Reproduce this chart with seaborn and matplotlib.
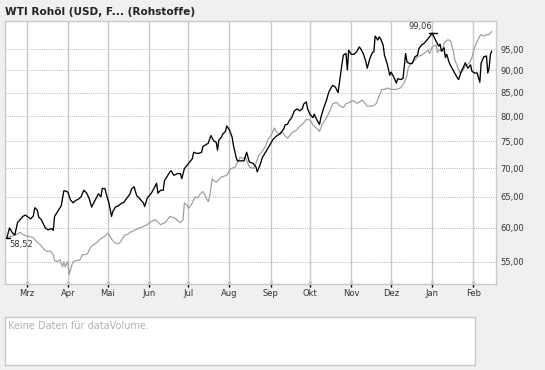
import matplotlib
matplotlib.use("Agg")
import matplotlib.pyplot as plt
import matplotlib.dates as mdates
import matplotlib.ticker as mticker
import seaborn as sns
import pandas as pd
from datetime import datetime

title = "WTI Rohöl (USD, F... (Rohstoffe)"
volume_note = "Keine Daten für dataVolume."

month_ticks = ["2007-03-01", "2007-04-01", "2007-05-01", "2007-06-01", "2007-07-01", "2007-08-01",
               "2007-09-01", "2007-10-01", "2007-11-01", "2007-12-01", "2008-01-01", "2008-02-01"]
month_labels = ["Mrz", "Apr", "Mai", "Jun", "Jul", "Aug", "Sep", "Okt", "Nov", "Dez", "Jan", "Feb"]
y_ticks = [55, 60, 65, 70, 75, 80, 85, 90, 95]
y_labels = ["55,00", "60,00", "65,00", "70,00", "75,00", "80,00", "85,00", "90,00", "95,00"]

wti_dates = [
    "2007-02-14", "2007-02-16", "2007-02-18", "2007-02-20", "2007-02-22", "2007-02-24", "2007-02-26", "2007-02-28",
    "2007-03-02", "2007-03-04", "2007-03-06", "2007-03-07", "2007-03-09", "2007-03-10", "2007-03-12", "2007-03-14",
    "2007-03-15", "2007-03-17", "2007-03-20", "2007-03-21", "2007-03-22", "2007-03-25", "2007-03-27", "2007-03-29",
    "2007-03-30", "2007-04-01", "2007-04-03", "2007-04-05", "2007-04-07", "2007-04-09", "2007-04-11", "2007-04-13",
    "2007-04-15", "2007-04-17", "2007-04-19", "2007-04-21", "2007-04-23", "2007-04-24", "2007-04-26", "2007-04-27",
    "2007-04-29", "2007-04-30", "2007-05-02", "2007-05-04", "2007-05-05", "2007-05-07", "2007-05-09", "2007-05-12",
    "2007-05-13", "2007-05-15", "2007-05-18", "2007-05-19", "2007-05-21", "2007-05-23", "2007-05-24", "2007-05-26",
    "2007-05-28", "2007-05-29", "2007-05-31", "2007-06-03", "2007-06-05", "2007-06-07", "2007-06-08", "2007-06-10",
    "2007-06-12", "2007-06-13", "2007-06-15", "2007-06-17", "2007-06-18", "2007-06-20", "2007-06-23", "2007-06-25",
    "2007-06-26", "2007-06-28", "2007-06-30", "2007-07-02", "2007-07-04", "2007-07-05", "2007-07-07", "2007-07-09",
    "2007-07-11", "2007-07-12", "2007-07-14", "2007-07-16", "2007-07-18", "2007-07-20", "2007-07-22", "2007-07-23",
    "2007-07-24", "2007-07-26", "2007-07-27", "2007-07-29", "2007-07-30", "2007-08-01", "2007-08-03", "2007-08-04",
    "2007-08-06", "2007-08-07", "2007-08-10", "2007-08-12", "2007-08-14", "2007-08-16", "2007-08-19", "2007-08-21",
    "2007-08-22", "2007-08-24", "2007-08-26", "2007-08-29", "2007-09-01", "2007-09-03", "2007-09-06", "2007-09-08",
    "2007-09-11", "2007-09-12", "2007-09-14", "2007-09-15", "2007-09-17", "2007-09-19", "2007-09-21", "2007-09-23",
    "2007-09-25", "2007-09-26", "2007-09-28", "2007-09-29", "2007-10-01", "2007-10-03", "2007-10-04", "2007-10-06",
    "2007-10-08", "2007-10-09", "2007-10-11", "2007-10-13", "2007-10-15", "2007-10-17", "2007-10-18", "2007-10-20",
    "2007-10-22", "2007-10-23", "2007-10-25", "2007-10-26", "2007-10-28", "2007-10-29", "2007-10-30", "2007-11-01",
    "2007-11-03", "2007-11-05", "2007-11-07", "2007-11-08", "2007-11-10", "2007-11-12", "2007-11-13", "2007-11-15",
    "2007-11-17", "2007-11-18", "2007-11-19", "2007-11-21", "2007-11-22", "2007-11-23", "2007-11-25", "2007-11-26",
    "2007-11-28", "2007-11-30", "2007-12-01", "2007-12-03", "2007-12-05", "2007-12-06", "2007-12-08", "2007-12-10",
    "2007-12-12", "2007-12-13", "2007-12-15", "2007-12-17", "2007-12-19", "2007-12-21", "2007-12-22", "2007-12-24",
    "2007-12-26", "2007-12-28", "2007-12-30", "2008-01-01", "2008-01-04", "2008-01-06", "2008-01-07", "2008-01-08",
    "2008-01-10", "2008-01-11", "2008-01-12", "2008-01-14", "2008-01-16", "2008-01-18", "2008-01-20", "2008-01-21",
    "2008-01-23", "2008-01-25", "2008-01-26", "2008-01-28", "2008-01-30", "2008-01-31", "2008-02-02", "2008-02-04",
    "2008-02-06", "2008-02-07", "2008-02-09", "2008-02-11", "2008-02-12", "2008-02-13", "2008-02-14", "2008-02-15",
]
wti_values = [
    58.52, 60.0, 59.3, 58.9, 60.8, 61.3, 61.8, 62.0,
    61.7, 61.4, 61.9, 63.2, 62.8, 61.7, 61.3, 60.4,
    60.0, 59.7, 59.9, 59.6, 61.8, 62.8, 63.5, 66.0,
    66.0, 65.8, 64.5, 64.0, 64.4, 64.6, 65.0, 66.1,
    65.7, 64.8, 63.3, 64.2, 65.0, 65.5, 65.0, 66.4,
    66.4, 65.5, 64.0, 61.8, 62.6, 63.3, 63.5, 64.0,
    64.0, 64.6, 65.5, 66.3, 66.7, 65.2, 65.0, 64.5,
    64.0, 63.4, 64.8, 65.6, 66.4, 67.3, 65.6, 66.1,
    66.1, 67.8, 68.5, 69.3, 69.5, 68.7, 69.0, 69.0,
    68.1, 69.9, 70.5, 71.1, 71.7, 72.9, 72.7, 72.7,
    72.9, 74.0, 74.3, 74.6, 76.1, 75.1, 74.8, 73.3,
    75.2, 75.8, 76.4, 76.9, 78.0, 77.2, 75.8, 74.2,
    72.0, 71.3, 71.3, 71.3, 72.9, 71.1, 70.8, 70.2,
    69.3, 70.5, 72.0, 73.2, 74.5, 75.4, 76.1, 76.4,
    77.4, 78.2, 78.4, 79.0, 79.7, 81.1, 81.5, 81.1,
    81.5, 82.5, 83.0, 81.5, 80.3, 79.7, 80.4, 79.2,
    78.3, 79.7, 81.6, 83.1, 85.1, 86.2, 86.6, 86.2,
    85.0, 87.2, 91.6, 93.6, 94.0, 90.1, 94.8, 93.8,
    93.8, 94.4, 95.6, 95.2, 94.0, 92.0, 90.5, 92.8,
    94.3, 94.4, 98.3, 97.3, 98.1, 97.7, 96.1, 93.6,
    91.6, 88.9, 89.6, 88.5, 87.1, 88.1, 87.9, 88.1,
    94.0, 92.0, 91.6, 91.6, 93.2, 93.6, 95.2, 96.1,
    96.5, 97.3, 98.1, 99.06, 97.0, 95.8, 96.3, 94.6,
    95.4, 93.0, 93.8, 91.7, 90.5, 89.4, 88.3, 87.9,
    89.8, 91.0, 91.8, 90.5, 91.3, 89.8, 89.4, 89.4,
    87.3, 91.7, 93.2, 93.4, 89.4, 90.5, 93.8, 94.6,
]

cmp_dates = [
    "2007-02-14", "2007-02-17", "2007-02-21", "2007-02-24", "2007-02-26", "2007-03-01", "2007-03-03", "2007-03-06",
    "2007-03-08", "2007-03-11", "2007-03-14", "2007-03-16", "2007-03-19", "2007-03-21", "2007-03-22", "2007-03-24",
    "2007-03-26", "2007-03-28", "2007-03-29", "2007-03-30", "2007-04-01", "2007-04-02", "2007-04-04", "2007-04-05",
    "2007-04-08", "2007-04-10", "2007-04-12", "2007-04-14", "2007-04-16", "2007-04-18", "2007-04-19", "2007-04-21",
    "2007-04-23", "2007-04-25", "2007-04-27", "2007-04-29", "2007-05-01", "2007-05-03", "2007-05-04", "2007-05-06",
    "2007-05-08", "2007-05-10", "2007-05-12", "2007-05-14", "2007-05-16", "2007-05-18", "2007-05-21", "2007-05-25",
    "2007-05-28", "2007-05-31", "2007-06-02", "2007-06-06", "2007-06-10", "2007-06-14", "2007-06-17", "2007-06-21",
    "2007-06-25", "2007-06-27", "2007-06-28", "2007-06-30", "2007-07-01", "2007-07-03", "2007-07-05", "2007-07-06",
    "2007-07-08", "2007-07-10", "2007-07-12", "2007-07-14", "2007-07-16", "2007-07-17", "2007-07-19", "2007-07-20",
    "2007-07-22", "2007-07-26", "2007-07-30", "2007-08-02", "2007-08-05", "2007-08-07", "2007-08-09", "2007-08-11",
    "2007-08-13", "2007-08-15", "2007-08-16", "2007-08-19", "2007-08-21", "2007-08-23", "2007-08-25", "2007-08-28",
    "2007-08-30", "2007-09-02", "2007-09-04", "2007-09-05", "2007-09-08", "2007-09-10", "2007-09-12", "2007-09-14",
    "2007-09-17", "2007-09-19", "2007-09-21", "2007-09-23", "2007-09-26", "2007-09-28", "2007-10-01", "2007-10-03",
    "2007-10-06", "2007-10-08", "2007-10-10", "2007-10-13", "2007-10-15", "2007-10-18", "2007-10-21", "2007-10-23",
    "2007-10-26", "2007-10-28", "2007-10-31", "2007-11-02", "2007-11-05", "2007-11-07", "2007-11-09", "2007-11-11",
    "2007-11-13", "2007-11-16", "2007-11-18", "2007-11-20", "2007-11-22", "2007-11-24", "2007-11-26", "2007-11-28",
    "2007-12-01", "2007-12-05", "2007-12-08", "2007-12-11", "2007-12-13", "2007-12-14", "2007-12-16", "2007-12-19",
    "2007-12-21", "2007-12-24", "2007-12-26", "2007-12-29", "2007-12-30", "2008-01-01", "2008-01-04", "2008-01-05",
    "2008-01-06", "2008-01-09", "2008-01-10", "2008-01-13", "2008-01-15", "2008-01-17", "2008-01-18", "2008-01-20",
    "2008-01-22", "2008-01-24", "2008-01-26", "2008-01-29", "2008-01-31", "2008-02-02", "2008-02-04", "2008-02-06",
    "2008-02-07", "2008-02-09", "2008-02-11", "2008-02-13", "2008-02-15",
]
cmp_values = [
    58.5, 58.7, 59.0, 59.3, 59.0, 58.7, 58.7, 58.5,
    58.0, 57.5, 56.8, 56.5, 56.5, 56.0, 55.2, 55.0,
    55.3, 54.3, 55.0, 54.3, 55.0, 53.2, 54.5, 55.0,
    55.2, 55.2, 56.0, 56.0, 56.2, 57.0, 57.3, 57.5,
    57.8, 58.2, 58.5, 58.7, 59.2, 58.7, 58.3, 57.8,
    57.6, 57.7, 58.3, 58.9, 59.0, 59.3, 59.6, 60.0,
    60.2, 60.5, 60.9, 61.3, 60.5, 60.9, 61.8, 61.5,
    60.8, 61.3, 64.0, 63.6, 63.1, 63.6, 64.5, 65.0,
    64.8, 65.5, 65.9, 65.0, 64.2, 65.0, 68.1, 67.8,
    67.5, 68.4, 68.7, 69.9, 70.1, 70.9, 72.0, 71.7,
    72.0, 70.8, 70.2, 69.9, 70.8, 72.3, 72.8, 73.9,
    75.3, 76.4, 77.6, 77.0, 76.4, 76.8, 76.0, 75.6,
    76.6, 76.9, 77.3, 77.9, 78.6, 79.3, 79.2, 78.2,
    77.5, 76.9, 78.3, 79.6, 80.6, 82.6, 82.9, 82.2,
    81.8, 82.6, 82.9, 83.3, 82.7, 82.9, 83.4, 82.8,
    82.1, 82.1, 82.2, 82.7, 84.3, 85.7, 85.7, 86.0,
    85.7, 85.7, 86.0, 87.2, 88.8, 90.7, 91.6, 92.4,
    93.2, 93.6, 94.0, 94.8, 94.0, 95.6, 96.1, 94.2,
    94.8, 94.5, 96.6, 97.4, 97.0, 94.6, 92.6, 91.0,
    89.4, 89.8, 91.0, 91.7, 93.0, 95.4, 97.0, 98.3,
    98.7, 98.3, 98.7, 98.7, 99.5,
]

low_label = "58,52"
high_label = "99,06"

# ---------------------------------------------------------------------------
W, H = 545, 370
BG = "#f0f0f0"
GRID = "#c8c8c8"

sns.set_theme(style="white")
plt.rcParams["font.family"] = ["DejaVu Sans"]

fig = plt.figure(figsize=(W / 100, H / 100), dpi=100, facecolor=BG)

ax = fig.add_axes([5 / W, 1 - 284 / H, 491 / W, 263 / H])
ax.set_facecolor("white")

wti = pd.DataFrame({"date": pd.to_datetime(wti_dates), "value": wti_values})
cmp_ = pd.DataFrame({"date": pd.to_datetime(cmp_dates), "value": cmp_values})

sns.lineplot(data=cmp_, x="date", y="value", ax=ax, color="#9c9c9c", lw=0.85, zorder=3)
sns.lineplot(data=wti, x="date", y="value", ax=ax, color="#000000", lw=0.95, zorder=4)

ax.set_yscale("log")
ax.set_ylim(51.93, 102.2)
ax.set_xlim(mdates.date2num(datetime(2007, 2, 12, 14)), mdates.date2num(datetime(2008, 2, 18, 5)))

ax.yaxis.set_major_locator(mticker.FixedLocator(y_ticks))
ax.yaxis.set_major_formatter(mticker.FixedFormatter(y_labels))
ax.yaxis.set_minor_locator(mticker.NullLocator())
ax.yaxis.tick_right()
ax.tick_params(axis="y", length=0, pad=3, labelsize=6, labelcolor="#333333")

xt = [mdates.date2num(pd.Timestamp(d)) for d in month_ticks]
ax.xaxis.set_major_locator(mticker.FixedLocator(xt))
ax.xaxis.set_major_formatter(mticker.FixedFormatter(month_labels))
ax.xaxis.set_minor_locator(mticker.NullLocator())
ax.tick_params(axis="x", direction="inout", length=4, width=1, color="#000000",
               pad=1.5, labelsize=6, labelcolor="#333333", bottom=True)

ax.set_xlabel("")
ax.set_ylabel("")

for t in xt:
    ax.axvline(t, color=GRID, lw=1.0, zorder=1)
for v in y_ticks:
    ax.axhline(v, color="#b8b8b8", lw=0.7, ls=(0, (1, 1.2)), zorder=1)

for s in ax.spines.values():
    s.set_color(GRID)
    s.set_linewidth(1.0)

# min / max markers
lo_i = wti_values.index(min(wti_values))
hi_i = wti_values.index(max(wti_values))
lo_d = mdates.date2num(pd.Timestamp(wti_dates[lo_i]))
hi_d = mdates.date2num(pd.Timestamp(wti_dates[hi_i]))
ax.plot([lo_d - 1, lo_d + 2.5], [wti_values[lo_i]] * 2, color="#000000", lw=1.0, zorder=5)
ax.plot([hi_d - 2, hi_d + 3.5], [wti_values[hi_i]] * 2, color="#000000", lw=1.0, zorder=5)
ax.annotate(low_label, (lo_d, wti_values[lo_i]), xytext=(2, -2), textcoords="offset points",
            ha="left", va="top", fontsize=6, color="#333333")
ax.annotate(high_label, (hi_d, wti_values[hi_i]), xytext=(0, 1.5), textcoords="offset points",
            ha="right", va="bottom", fontsize=6, color="#333333")

fig.text(5 / W, 1 - 12 / H, title, ha="left", va="center", fontsize=7.6,
         fontweight="bold", color="#222222")

# volume panel
vax = fig.add_axes([5 / W, 1 - 365.3 / H, 470 / W, 48 / H])
vax.set_facecolor("white")
vax.set_xticks([])
vax.set_yticks([])
for s in vax.spines.values():
    s.set_color(GRID)
    s.set_linewidth(1.0)
vax.text(3 / 470, 1 - 9 / 48, volume_note, transform=vax.transAxes, ha="left", va="center",
         fontsize=7, color="#b0b0b0")

fig.savefig("out.png", dpi=100, facecolor=BG)
